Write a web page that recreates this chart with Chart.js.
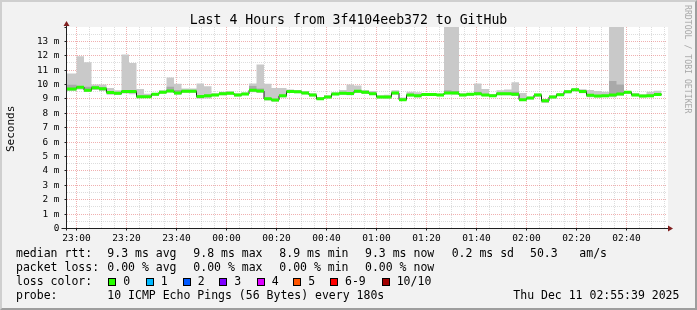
<!DOCTYPE html>
<html>
<head>
<meta charset="utf-8">
<script src="https://cdn.jsdelivr.net/npm/chart.js@4.4.1/dist/chart.umd.min.js"></script>
<style>
  html, body { margin: 0; padding: 0; background: #f2f2f2; }
  #graph { position: relative; width: 697px; height: 310px; background: #f2f2f2; overflow: hidden;
           font-family: "DejaVu Sans Mono", monospace; color: #000; }
  #graph canvas { position: absolute; left: 0; top: 0; }
  .frame { position: absolute; left: 0; top: 0; width: 697px; height: 310px; box-sizing: border-box;
           border-style: solid; border-width: 2px; border-color: #cfcfcf #9e9e9e #9e9e9e #cfcfcf; pointer-events: none; }
  .t { position: absolute; white-space: pre; line-height: 1; }
  .leg { font-size: 11.5px; }
  .box { position: absolute; width: 6px; height: 6px; border: 1px solid #000; }
</style>
</head>
<body>
<div id="graph">
  <canvas id="chart" width="697" height="310"></canvas>
  <div class="t" style="left:0;width:697px;text-align:center;top:12.8px;font-size:13.2px;">Last 4 Hours from 3f4104eeb372 to GitHub</div>
  <div class="t" style="left:5.2px;top:151.5px;font-size:11px;transform-origin:0 0;transform:rotate(-90deg);">Seconds</div>
  <div class="t" style="left:691.9px;top:5px;font-size:8.2px;color:#a8a8a8;transform-origin:0 0;transform:rotate(90deg);">RRDTOOL / TOBI OETIKER</div>

  <div class="t leg" style="left:16px;top:248.3px;">median rtt:</div>
  <div class="t leg" style="left:107.3px;top:248.3px;">9.3 ms avg</div>
  <div class="t leg" style="left:193.3px;top:248.3px;">9.8 ms max</div>
  <div class="t leg" style="left:279.3px;top:248.3px;">8.9 ms min</div>
  <div class="t leg" style="left:365px;top:248.3px;">9.3 ms now</div>
  <div class="t leg" style="left:451.7px;top:248.3px;">0.2 ms sd</div>
  <div class="t leg" style="left:530px;top:248.3px;">50.3</div>
  <div class="t leg" style="left:579.3px;top:248.3px;">am/s</div>

  <div class="t leg" style="left:16px;top:262.2px;">packet loss:</div>
  <div class="t leg" style="left:107.3px;top:262.2px;">0.00 % avg</div>
  <div class="t leg" style="left:193.3px;top:262.2px;">0.00 % max</div>
  <div class="t leg" style="left:279.3px;top:262.2px;">0.00 % min</div>
  <div class="t leg" style="left:365px;top:262.2px;">0.00 % now</div>

  <div class="t leg" style="left:16px;top:276.1px;">loss color:</div>
  <div id="lossLegend"></div>

  <div class="t leg" style="left:16px;top:289.9px;">probe:</div>
  <div class="t leg" style="left:107.3px;top:289.9px;">10 ICMP Echo Pings (56 Bytes) every 180s</div>
  <div class="t leg" style="left:513.3px;top:289.9px;">Thu Dec 11 02:55:39 2025</div>
  <div class="frame"></div>
</div>
<script>
// 3 minute bins, first one starts 22:54 (minutes relative to 23:00)
const firstBinMinute = -6;
const binMinutes = 3;

const medianRtt = [
  9.70, 9.70, 9.82, 9.60, 9.78, 9.71, 9.45, 9.39, 9.51, 9.51,
  9.16, 9.16, 9.32, 9.47, 9.56, 9.41, 9.54, 9.54, 9.17, 9.22,
  9.28, 9.36, 9.40, 9.27, 9.35, 9.60, 9.55, 9.01, 8.92, 9.22,
  9.52, 9.50, 9.41, 9.27, 9.01, 9.13, 9.35, 9.40, 9.38, 9.53,
  9.46, 9.37, 9.14, 9.14, 9.42, 8.95, 9.28, 9.23, 9.31, 9.31,
  9.28, 9.42, 9.42, 9.28, 9.32, 9.36, 9.28, 9.23, 9.36, 9.36,
  9.32, 8.95, 9.06, 9.27, 8.87, 9.14, 9.30, 9.50, 9.64, 9.52,
  9.25, 9.20, 9.22, 9.27, 9.35, 9.46, 9.28, 9.20, 9.23, 9.31
];
const pingMax = [
  10.77, 10.77, 11.97, 11.55, 10.00, 10.00, 9.77, 9.60, 12.09, 11.50,
  9.70, 9.37, 9.42, 9.60, 10.50, 10.05, 9.72, 9.72, 10.07, 9.88,
  9.40, 9.50, 9.53, 9.40, 9.45, 10.07, 11.40, 10.05, 9.77, 9.77,
  9.65, 9.62, 9.55, 9.40, 9.12, 9.25, 9.47, 9.63, 10.00, 9.93,
  9.62, 9.55, 9.25, 9.30, 9.60, 9.10, 9.50, 9.47, 9.40, 9.42,
  9.38, 18.0, 18.0, 9.40, 9.42, 10.07, 9.70, 9.35, 9.60, 9.65,
  10.16, 9.42, 9.15, 9.37, 9.00, 9.25, 9.40, 9.60, 9.72, 9.68,
  9.63, 9.55, 9.50, 18.0, 18.0, 9.56, 9.42, 9.32, 9.50, 9.57
];
const pingMin = [
  9.55, 9.55, 9.66, 9.48, 9.62, 9.55, 9.30, 9.27, 9.38, 9.33,
  9.05, 9.06, 9.22, 9.36, 9.45, 9.30, 9.44, 9.44, 9.02, 9.03,
  9.18, 9.26, 9.30, 9.17, 9.25, 9.46, 9.42, 8.90, 8.80, 9.10,
  9.42, 9.40, 9.31, 9.17, 8.92, 9.03, 9.25, 9.28, 9.26, 9.42,
  9.35, 9.27, 9.04, 9.02, 9.30, 8.86, 9.17, 9.11, 9.21, 9.21,
  9.18, 9.32, 9.30, 9.18, 9.22, 9.26, 9.18, 9.13, 9.26, 9.26,
  9.20, 8.85, 8.96, 9.15, 8.74, 9.04, 9.20, 9.40, 9.54, 9.40,
  9.12, 9.10, 9.12, 9.12, 9.22, 9.36, 9.18, 9.10, 9.12, 9.21
];
const innerLow = [
  9.64, 9.64, 9.76, 9.54, 9.72, 9.65, 9.39, 9.33, 9.45, 9.45,
  9.10, 9.10, 9.26, 9.41, 9.50, 9.35, 9.48, 9.48, 9.11, 9.16,
  9.22, 9.30, 9.34, 9.21, 9.29, 9.54, 9.49, 8.95, 8.86, 9.16,
  9.46, 9.44, 9.35, 9.21, 8.95, 9.07, 9.29, 9.34, 9.32, 9.47,
  9.40, 9.31, 9.08, 9.08, 9.36, 8.89, 9.22, 9.17, 9.25, 9.25,
  9.22, 9.36, 9.36, 9.22, 9.26, 9.30, 9.22, 9.17, 9.30, 9.30,
  9.26, 8.89, 9.00, 9.21, 8.78, 9.08, 9.24, 9.44, 9.58, 9.46,
  9.19, 9.14, 9.16, 9.21, 9.29, 9.40, 9.22, 9.14, 9.17, 9.25
];
const innerHigh = [
  9.98, 9.98, 9.90, 9.85, 9.86, 9.82, 9.52, 9.46, 9.60, 9.60,
  9.24, 9.23, 9.38, 9.55, 9.85, 9.62, 9.62, 9.62, 9.25, 9.30,
  9.35, 9.43, 9.47, 9.34, 9.42, 9.90, 9.72, 9.09, 9.00, 9.30,
  9.59, 9.57, 9.48, 9.34, 9.08, 9.20, 9.42, 9.47, 9.46, 9.62,
  9.53, 9.44, 9.21, 9.21, 9.49, 9.03, 9.35, 9.30, 9.38, 9.38,
  9.35, 9.60, 9.55, 9.35, 9.39, 9.50, 9.35, 9.30, 9.43, 9.43,
  9.50, 9.02, 9.13, 9.36, 8.95, 9.21, 9.37, 9.57, 9.71, 9.59,
  9.33, 9.27, 9.30, 10.25, 10.00, 9.53, 9.35, 9.27, 9.30, 9.38
];

const timeLabels = ['23:00', '23:20', '23:40', '00:00', '00:20', '00:40',
                    '01:00', '01:20', '01:40', '02:00', '02:20', '02:40'];
const yTickLabels = ['0', '1 m', '2 m', '3 m', '4 m', '5 m', '6 m', '7 m',
                     '8 m', '9 m', '10 m', '11 m', '12 m', '13 m'];

const lossLabels = ['0', '1', '2', '3', '4', '5', '6-9', '10/10'];
const lossColors = ['#26ff00', '#00b8ff', '#0059ff', '#7e00ff', '#dd00ff', '#ff5500', '#ff0000', '#a10000'];

// --- legend of loss colours ---
const lossBoxX = [108.3, 145.7, 182.7, 219.3, 256.7, 293.3, 330, 381.7];
const lossHolder = document.getElementById('lossLegend');
lossLabels.forEach((lab, i) => {
    const b = document.createElement('div');
    b.className = 'box';
    b.style.left = lossBoxX[i] + 'px';
    b.style.top = '278px';
    b.style.background = lossColors[i];
    lossHolder.appendChild(b);
    const t = document.createElement('div');
    t.className = 't leg';
    t.style.left = (lossBoxX[i] + 15) + 'px';
    t.style.top = '276.1px';
    t.textContent = lab;
    lossHolder.appendChild(t);
});

// --- build step series ---
const binStart = i => firstBinMinute + i * binMinutes;

function stepPoints(values) {
    const pts = values.map((v, i) => ({ x: binStart(i), y: v }));
    pts.push({ x: binStart(values.length), y: values[values.length - 1] });
    return pts;
}

// green only on the flat part of each bin
const greenPts = [];
medianRtt.forEach((v, i) => {
    greenPts.push({ x: binStart(i), y: v });
    greenPts.push({ x: binStart(i + 1), y: v });
    greenPts.push({ x: binStart(i + 1), y: null });
});

const gridMajor = 'rgba(222,79,79,0.45)';
const gridMinor = 'rgba(143,143,143,0.3)';

const plotBackground = {
    id: 'plotBackground',
    beforeDraw(chart) {
        const { ctx, chartArea: a } = chart;
        ctx.save();
        ctx.fillStyle = '#ffffff';
        ctx.fillRect(a.left, a.top, a.right - a.left + 1, a.bottom - a.top);
        ctx.restore();
    }
};

const axisArrows = {
    id: 'axisArrows',
    afterDatasetsDraw(chart) {
        const { ctx, chartArea: a } = chart;
        ctx.save();
        ctx.strokeStyle = '#1f1f1f';
        ctx.lineWidth = 1;
        ctx.beginPath();
        ctx.moveTo(a.left - 5, a.bottom);
        ctx.lineTo(a.right + 2, a.bottom);
        ctx.moveTo(a.left, a.bottom + 2);
        ctx.lineTo(a.left, a.top - 2);
        ctx.stroke();
        ctx.fillStyle = '#801f1f';
        ctx.beginPath();
        ctx.moveTo(a.right + 1, a.bottom - 3);
        ctx.lineTo(a.right + 6, a.bottom);
        ctx.lineTo(a.right + 1, a.bottom + 3);
        ctx.closePath();
        ctx.fill();
        ctx.beginPath();
        ctx.moveTo(a.left - 3, a.top - 1);
        ctx.lineTo(a.left, a.top - 6);
        ctx.lineTo(a.left + 3, a.top - 1);
        ctx.closePath();
        ctx.fill();
        ctx.restore();
    }
};

new Chart(document.getElementById('chart'), {
    type: 'line',
    data: {
        datasets: [
            { label: 'loss 0', data: greenPts, borderColor: lossColors[0], borderWidth: 3,
              borderCapStyle: 'butt', spanGaps: false, fill: false },
            { label: 'median', data: stepPoints(medianRtt), stepped: 'before', borderColor: '#202020',
              borderWidth: 1, fill: false },
            { label: 'inner high', data: stepPoints(innerHigh), stepped: 'before', borderWidth: 0,
              borderColor: 'rgba(0,0,0,0)', backgroundColor: '#a9a9a9', fill: '+1' },
            { label: 'inner low', data: stepPoints(innerLow), stepped: 'before', borderWidth: 0,
              borderColor: 'rgba(0,0,0,0)', fill: false },
            { label: 'ping max', data: stepPoints(pingMax), stepped: 'before', borderWidth: 0,
              borderColor: 'rgba(0,0,0,0)', backgroundColor: '#c9c9c9', fill: '+1' },
            { label: 'ping min', data: stepPoints(pingMin), stepped: 'before', borderWidth: 0,
              borderColor: 'rgba(0,0,0,0)', fill: false }
        ]
    },
    options: {
        responsive: false,
        animation: false,
        events: [],
        layout: { padding: { left: 0, right: 30, top: 27, bottom: 0 } },
        elements: { point: { radius: 0 } },
        plugins: { legend: { display: false }, tooltip: { enabled: false }, title: { display: false } },
        scales: {
            x: {
                type: 'linear',
                min: -4,
                max: 236.2,
                afterFit: s => { s.height = 81.5; },
                ticks: {
                    stepSize: 5, includeBounds: false, autoSkip: false, maxRotation: 0, minRotation: 0,
                    padding: 2.5, color: '#000',
                    font: { family: 'DejaVu Sans Mono', size: 9.5 },
                    callback: v => (v % 20 === 0 ? timeLabels[v / 20] : '')
                },
                grid: {
                    color: c => (c.tick.value % 20 === 0 ? gridMajor : gridMinor),
                    lineWidth: 1,
                    drawTicks: true,
                    tickLength: 2,
                    tickColor: c => (c.tick.value % 20 === 0 ? '#1f1f1f' : 'rgba(0,0,0,0)'),
                    tickBorderDash: []
                },
                border: { display: false, dash: [1, 1] }
            },
            y: {
                min: 0,
                max: 14,
                afterFit: s => { s.width = 66.5; },
                ticks: {
                    stepSize: 0.5, includeBounds: false, autoSkip: false, padding: 5, color: '#000',
                    font: { family: 'DejaVu Sans Mono', size: 9.4 },
                    callback: v => (Number.isInteger(v) && v < 14 ? yTickLabels[v] : '')
                },
                grid: {
                    color: c => {
                        const v = c.tick.value;
                        if (v <= 0 || v >= 14) return 'rgba(0,0,0,0)';
                        return Number.isInteger(v) ? gridMajor : gridMinor;
                    },
                    lineWidth: 1,
                    drawTicks: true,
                    tickLength: 2,
                    tickColor: c => (Number.isInteger(c.tick.value) ? '#1f1f1f' : 'rgba(0,0,0,0)'),
                    tickBorderDash: []
                },
                border: { display: false, dash: [1, 1] }
            }
        }
    },
    plugins: [plotBackground, axisArrows]
});
</script>
</body>
</html>
